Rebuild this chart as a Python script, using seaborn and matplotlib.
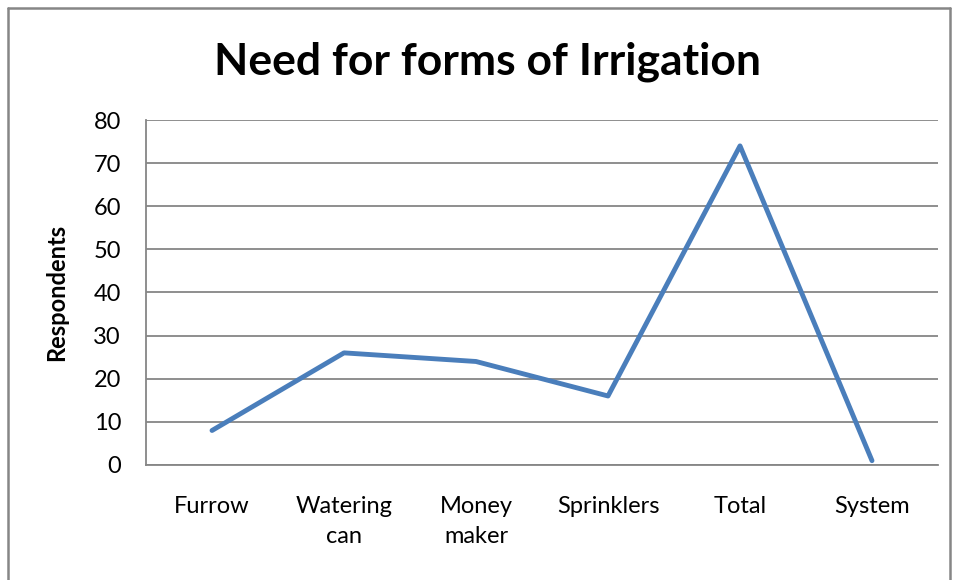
import matplotlib
matplotlib.use("Agg")
import matplotlib.pyplot as plt
import seaborn as sns
import pandas as pd
from matplotlib.lines import Line2D

categories = ["Furrow", "Watering\ncan", "Money\nmaker", "Sprinklers", "Total", "System"]
respondents = [8, 26, 24, 16, 74, 1]
yticks = [0, 10, 20, 30, 40, 50, 60, 70, 80]

sns.set_theme(style="white")
plt.rcParams['font.family'] = ['Lato', 'DejaVu Sans']
plt.rcParams['text.color'] = 'black'

df = pd.DataFrame({"cat": categories, "val": respondents})

fig = plt.figure(figsize=(9.55, 5.8), dpi=100)
ax = fig.add_axes([0.1529, 0.1983, 0.9822 - 0.1529, 0.7931 - 0.1983])

sns.lineplot(data=df, x="cat", y="val", ax=ax, color="#4A7EBB", linewidth=3.5,
             sort=False, solid_capstyle="round")

ax.set_xlim(-0.5, len(categories) - 0.5)
ax.set_ylim(0, 80)
ax.set_yticks(yticks)
ax.set_yticklabels([str(t) for t in yticks], fontsize=17)
ax.set_xticks(range(len(categories)))
ax.set_xticklabels(categories, fontsize=17, linespacing=1.55)
ax.tick_params(axis="y", length=0, pad=18, colors="black")
ax.tick_params(axis="x", length=0, pad=22, colors="black")
for lab in ax.get_xticklabels():
    lab.set_verticalalignment("top")

ax.grid(axis="y", color="#868686", linewidth=1.3)
ax.grid(axis="x", visible=False)
ax.set_axisbelow(True)
for s in ["top", "right"]:
    ax.spines[s].set_visible(False)
for s in ["left", "bottom"]:
    ax.spines[s].set_color("#868686")
    ax.spines[s].set_linewidth(1.3)

ax.set_xlabel("")
ax.set_ylabel("Respondents", fontsize=17, fontweight="bold", labelpad=18, color="black")

fig.text(0.51, 0.894, "Need for forms of Irrigation", ha="center", va="center",
         fontsize=32, fontweight="bold", color="black")

# outer chart frame
fc = "#868686"
x0, x1 = 7.5 / 955, 950 / 955
y0 = 1 - 7.5 / 580
fig.add_artist(Line2D([x0, x1], [y0, y0], transform=fig.transFigure, color=fc, lw=1.8))
fig.add_artist(Line2D([x0, x0], [0, y0], transform=fig.transFigure, color=fc, lw=1.8))
fig.add_artist(Line2D([x1, x1], [0, y0], transform=fig.transFigure, color=fc, lw=1.8))

fig.savefig("out.png", dpi=100)
